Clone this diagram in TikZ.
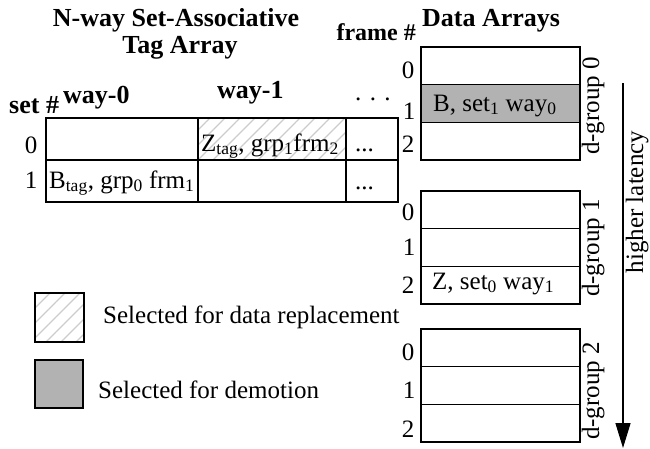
\documentclass[tikz,border=0pt]{standalone}
\usepackage{fontspec}
\setmainfont{Liberation Serif}
\usepackage{xcolor}
\usepackage{tikz}
\usetikzlibrary{arrows.meta,patterns.meta}

\begin{document}
\begin{tikzpicture}[x=1pt,y=-1pt,
  font=\fontsize{25}{30}\selectfont,
  tagcell/.style={draw,line width=1.4pt,anchor=north west,inner sep=0pt,outer sep=0pt,minimum height=42pt},
  datacell/.style={draw,line width=1.4pt,anchor=north west,inner sep=0pt,outer sep=0pt,minimum width=159pt,minimum height=37.7pt},
  hatched/.style={pattern={Lines[angle=45,distance=10.6pt,line width=1.3pt]},pattern color=gray!40},
  demoted/.style={fill=gray!60},
  txt/.style={anchor=base west,inner sep=0pt},
  hdr/.style={txt,font=\fontsize{26}{31}\selectfont\bfseries},
  num/.style={anchor=base,inner sep=0pt},
  side/.style={rotate=90,anchor=base,inner sep=0pt}]
\useasboundingbox (0,0) rectangle (650,448);

%标题
\node[hdr,anchor=base] (title1) at (176,26) {N-way Set-Associative};
\node[hdr,anchor=base] (title2) at (180,53) {Tag Array};
\node[hdr] (datatitle) at (422,26) {Data Arrays};
\node[hdr,anchor=base east,font=\fontsize{24}{29}\selectfont\bfseries] (framehd) at (416,40) {frame \#};
\node[hdr] (sethd) at (9,113) {set \#};
\node[hdr] (way0) at (63,103) {way-0};
\node[hdr] (way1) at (217,98) {way-1};
\node[txt] (waydots) at (355,100) {. . .};

%标签阵列
\node[tagcell,minimum width=152pt] (s0w0) at (46,118) {};
\node[tagcell,minimum width=148pt,hatched] (s0w1) at (198,118) {};
\node[tagcell,minimum width=52pt] (s0wn) at (346,118) {};
\node[tagcell,minimum width=152pt] (s1w0) at (46,160) {};
\node[tagcell,minimum width=148pt] (s1w1) at (198,160) {};
\node[tagcell,minimum width=52pt] (s1wn) at (346,160) {};

\node[num] (set0) at (31,153) {0};
\node[num] (set1) at (31,188) {1};
\node[txt] (ztag) at (201,151) {Z\textsubscript{tag}, grp\textsubscript{1}frm\textsubscript{2}};
\node[txt] (btag) at (49,188) {B\textsubscript{tag}, grp\textsubscript{0} frm\textsubscript{1}};
\node[txt] (dots0) at (355,151) {...};
\node[txt] (dots1) at (355,189) {...};

%数据阵列 d-group 0
\node[datacell] (g0f0) at (421,47) {};
\node[datacell,demoted] (g0f1) at (421,84.7) {};
\node[datacell] (g0f2) at (421,122.3) {};
\node[num] (g0n0) at (408,78) {0};
\node[num] (g0n1) at (409,119) {1};
\node[num] (g0n2) at (408,152) {2};
\node[txt] (bdata) at (433,111) {B, set\textsubscript{1} way\textsubscript{0}};
\node[side] (dg0) at (599,106) {d-group 0};

%数据阵列 d-group 1
\node[datacell] (g1f0) at (421,191) {};
\node[datacell] (g1f1) at (421,228.7) {};
\node[datacell] (g1f2) at (421,266.3) {};
\node[num] (g1n0) at (408,220) {0};
\node[num] (g1n1) at (409,255) {1};
\node[num] (g1n2) at (408,293) {2};
\node[txt] (zdata) at (432,289) {Z, set\textsubscript{0} way\textsubscript{1}};
\node[side] (dg1) at (599,248) {d-group 1};

%数据阵列 d-group 2
\node[datacell] (g2f0) at (421,329) {};
\node[datacell] (g2f1) at (421,366.7) {};
\node[datacell] (g2f2) at (421,404.3) {};
\node[num] (g2n0) at (408,360) {0};
\node[num] (g2n1) at (409,398) {1};
\node[num] (g2n2) at (408,437) {2};
\node[side] (dg2) at (599,391) {d-group 2};

%延迟箭头
\coordinate (latTop) at (623,83);
\coordinate (latBot) at (623,448);
\draw[line width=1.4pt,-{Triangle[length=25pt,width=15pt]}] (latTop)--(latBot);
\node[side] (latency) at (643,202) {higher latency};

%图例
\node[tagcell,minimum width=49pt,minimum height=49pt,hatched] (keyrepl) at (35,293) {};
\node[tagcell,minimum width=48pt,minimum height=48pt,demoted] (keydemo) at (35,360) {};
\node[txt] (replbl) at (103,323) {Selected for data replacement};
\node[txt] (demolbl) at (98,398) {Selected for demotion};
\end{tikzpicture}
\end{document}
